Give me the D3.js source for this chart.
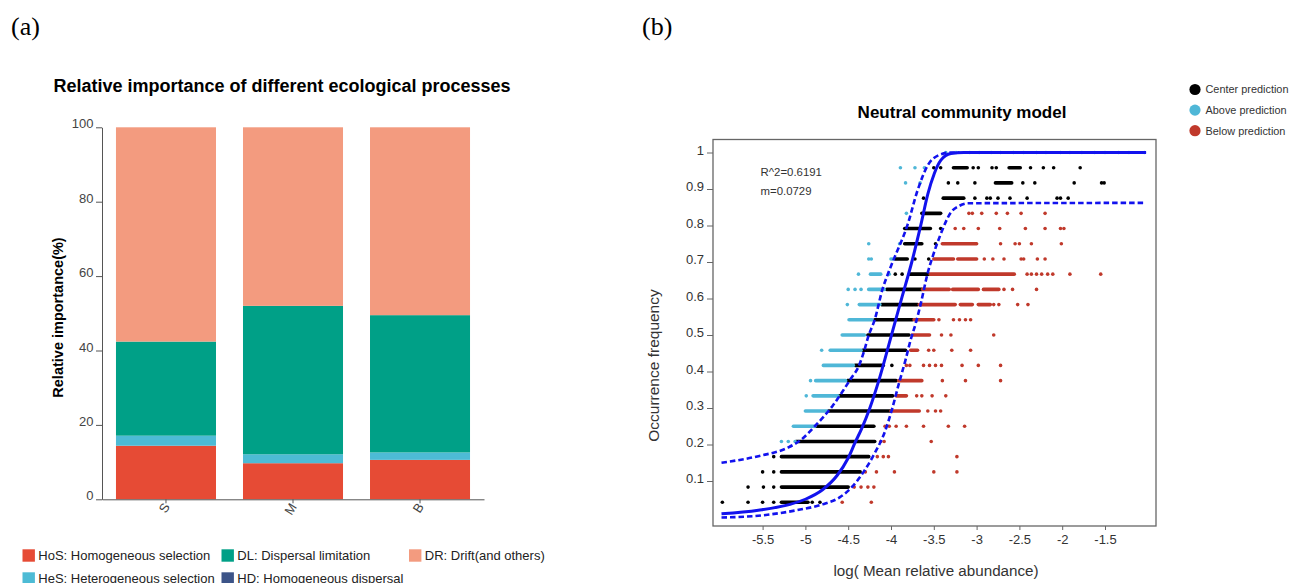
<!DOCTYPE html>
<html>
<head>
<meta charset="utf-8">
<script src="https://cdn.jsdelivr.net/npm/d3@7"></script>
<style>
body { margin: 0; background: #fff; }
svg { display: block; font-family: "Liberation Sans", Arial, sans-serif; }
</style>
</head>
<body>
<svg id="svg1" width="1294" height="583"></svg>
<script>
// ---------- panel (a) data ----------
var sites = ["S", "M", "B"];
var processKeys = ["HoS", "HeS", "DL", "HD", "DR"];
var hosValues = [14.4, 9.7, 10.6];
var hesValues = [2.7, 2.4, 2.0];
var dlValues = [25.3, 39.9, 36.9];
var hdValues = [0, 0, 0];
var drValues = [57.6, 48.0, 50.5];
var processLabels = ["HoS: Homogeneous selection", "HeS: Heterogeneous selection",
    "DL: Dispersal limitation", "HD: Homogeneous dispersal", "DR: Drift(and others)"];
var yTicksA = [0, 20, 40, 60, 80, 100];

// ---------- panel (b) data ----------
// occurrence = number of samples / 24 ; items are single OTUs or [from, to] runs of overlapping OTUs
var nSamples = 24;
var centerPts = [
    [1, [-5.97, -5.67, -5.50, -5.37, [-5.28, -4.97], -4.92, -4.83]],
    [2, [-5.67, -5.49, -5.37, [-5.28, -4.50]]],
    [3, [-5.50, -5.37, [-5.28, -4.36]]],
    [4, [-5.37, [-5.28, -4.26]]],
    [5, [[-5.11, -4.19]]],
    [6, [[-4.87, -4.20]]],
    [7, [[-4.73, -4.01]]],
    [8, [[-4.61, -3.98]]],
    [9, [[-4.51, -3.94]]],
    [10, [[-4.42, -4.09], -3.99]],
    [11, [[-4.33, -3.83]]],
    [12, [[-4.27, -3.79]]],
    [13, [[-4.19, -3.75]]],
    [14, [[-4.11, -3.69]]],
    [15, [[-4.05, -3.64]]],
    [16, [-3.95, -3.87, [-3.78, -3.56]]],
    [17, [[-3.95, -3.81], -3.72, -3.56]],
    [18, [[-3.84, -3.64], -3.48]],
    [19, [[-3.84, -3.54], -3.42]],
    [20, [[-3.64, -3.42]]],
    [21, [-3.62, [-3.39, -3.15], -3.02, -2.88, -2.84, -2.75, -2.61, -2.41, -2.06, -2.02, -1.93]],
    [22, [-3.33, -3.22, -3.02, [-2.78, -2.59], -2.46, -2.32, -1.86, -1.54, -1.51]],
    [23, [-3.50, -3.42, [-3.27, -3.11], -3.04, -2.98, -2.82, -2.77, [-2.62, -2.49], -2.37, -2.22, -2.10, -1.79]]
];
var abovePts = [
    [5, [-5.28, -5.20, -5.12]],
    [6, [[-5.14, -4.89]]],
    [7, [[-5.00, -4.75]]],
    [8, [-4.99, [-4.91, -4.62]]],
    [9, [-4.94, [-4.88, -4.53]]],
    [10, [[-4.79, -4.44]]],
    [11, [-4.81, [-4.71, -4.35]]],
    [12, [[-4.57, -4.31]]],
    [13, [[-4.49, -4.22]]],
    [14, [-4.51, [-4.37, -4.13]]],
    [15, [-4.50, -4.42, -4.35, [-4.26, -4.08]]],
    [16, [-4.38, [-4.24, -4.12], -4.02]],
    [17, [-4.26, -4.23, -4.00, -3.98]],
    [18, [-4.26, -3.90]],
    [20, [-3.82]],
    [22, [-3.83, -3.66]],
    [23, [-3.89, -3.72, -3.61]],
    [24, [-3.36, -3.24, -3.08, -2.97, -2.83, -2.72, -2.57, -2.45, -2.30, -2.19, -2.02, -1.91,
          -1.77, -1.62, -1.50, -1.34, -1.22, -1.04]]
];
var belowPts = [
    [1, [-4.57, -4.23]],
    [2, [-4.43, -4.35, -4.27, -4.20]],
    [3, [-4.30, -4.17, -3.96, -3.50, -3.23]],
    [4, [-4.16, -4.09, -4.03, -3.23]],
    [5, [-4.12, -4.08, -3.53]],
    [6, [-4.07, -4.02, -3.94, -3.82, -3.62, -3.33, -3.14]],
    [7, [[-4.00, -3.67], -3.57, -3.48, -3.42]],
    [8, [[-3.94, -3.82], -3.70, -3.64, -3.52, -3.36]],
    [9, [[-3.91, -3.64], -3.40, -3.13, -2.72]],
    [10, [-3.82, -3.78, -3.62, -3.55, -3.48, -3.41, -3.17, -2.98, -2.72]],
    [11, [[-3.77, -3.69], -3.56, -3.50, -3.29, -3.07]],
    [12, [[-3.75, -3.55], -3.41, -3.30, -2.80]],
    [13, [[-3.73, -3.50], -3.44, -3.27, -3.20, -3.13, -3.07]],
    [14, [[-3.67, -3.25], [-3.19, -3.05], [-2.98, -2.84], -2.80, -2.74, -2.52, -2.40]],
    [15, [[-3.63, -3.32], [-3.28, -2.98], [-2.92, -2.74], -2.68, -2.58, -2.30]],
    [16, [[-3.54, -2.56], -2.41, -2.36, -2.30, -2.24, -2.17, -2.11, -1.91, -1.55]],
    [17, [[-3.50, -3.27], [-3.22, -3.00], -2.91, -2.81, -2.68, -2.48, -2.45, -2.29, -2.20]],
    [18, [[-3.40, -3.00], -2.72, -2.55, -2.50, -2.36, -2.01]],
    [19, [-3.25, -3.15, -2.98, -2.73, -2.43, -2.20, -2.02, -1.98]],
    [20, [-3.09, -3.05, -2.94, -2.77, -2.64, -2.48, -2.20]]
];
var fitCurve = [[-5.98, 0.01], [-5.55, 0.02], [-5.18, 0.036], [-5.0, 0.05], [-4.80, 0.076],
    [-4.63, 0.115], [-4.50, 0.163], [-4.42, 0.205], [-4.34, 0.245], [-4.25, 0.298],
    [-4.14, 0.377], [-4.00, 0.495], [-3.87, 0.605], [-3.757, 0.70], [-3.65, 0.803],
    [-3.57, 0.886], [-3.495, 0.942], [-3.417, 0.979], [-3.30, 0.997], [-3.15, 1.0], [-1.02, 1.0]];
var upperBound = [[-5.98, 0.15], [-5.55, 0.168], [-5.2, 0.192], [-5.05, 0.213], [-4.89, 0.25],
    [-4.685, 0.305], [-4.47, 0.38], [-4.38, 0.413], [-4.31, 0.459], [-4.265, 0.496],
    [-4.19, 0.542], [-4.10, 0.625], [-4.03, 0.671], [-3.96, 0.712], [-3.805, 0.803],
    [-3.69, 0.896], [-3.57, 0.965], [-3.44, 0.993], [-3.30, 1.0], [-3.2, 1.0]];
var lowerBound = [[-5.98, 0.0], [-5.5, 0.006], [-5.1, 0.02], [-4.8, 0.036], [-4.6, 0.055],
    [-4.45, 0.085], [-4.32, 0.125], [-4.20, 0.172], [-4.07, 0.236], [-3.99, 0.295],
    [-3.91, 0.365], [-3.83, 0.432], [-3.77, 0.487], [-3.71, 0.533], [-3.65, 0.588],
    [-3.57, 0.671], [-3.52, 0.71], [-3.42, 0.776], [-3.30, 0.836], [-3.20, 0.854],
    [-3.10, 0.861], [-1.02, 0.862]];
var xTicksB = [-5.5, -5, -4.5, -4, -3.5, -3, -2.5, -2, -1.5];
var yTicksB = [0.1, 0.2, 0.3, 0.4, 0.5, 0.6, 0.7, 0.8, 0.9, 1];
var fitStats = ["R^2=0.6191", "m=0.0729"];
var pointClasses = ["Center prediction", "Above prediction", "Below prediction"];

var svg = d3.select('#svg1');

// panel letters
svg.append('text').attr('x', 11).attr('y', 35).text('(a)')
    .style('font-family', '"Liberation Serif", "Times New Roman", serif').style('font-size', '26px');
svg.append('text').attr('x', 642).attr('y', 35).text('(b)')
    .style('font-family', '"Liberation Serif", "Times New Roman", serif').style('font-size', '26px');

// ================= panel (a): stacked bars =================
var colorA = d3.scaleOrdinal().domain(processKeys)
    .range(['#E64B35', '#4DBBD5', '#00A087', '#3C5488', '#F39B7F']);

var tableA = sites.map(function(s, i) {
    return {site: s, HoS: hosValues[i], HeS: hesValues[i], DL: dlValues[i], HD: hdValues[i], DR: drValues[i]};
});

var xA = d3.scaleBand().domain(sites).range([102, 484]).paddingInner(0.2126).paddingOuter(0.11);
var yA = d3.scaleLinear().domain([0, 100]).range([499.3, 127.3]);

var stacked = d3.stack().keys(processKeys)(tableA);

var gA = svg.append('g');
gA.selectAll('.layer')
    .data(stacked)
    .enter().append('g')
    .attr('fill', function(d) { return colorA(d.key); })
    .selectAll('rect')
    .data(function(d) { return d; })
    .enter().append('rect')
    .attr('x', function(d) { return xA(d.data.site); })
    .attr('width', xA.bandwidth())
    .attr('y', function(d) { return yA(d[1]); })
    .attr('height', function(d) { return yA(d[0]) - yA(d[1]); });

var yAxisA = gA.append('g')
    .attr('transform', 'translate(102,0)')
    .call(d3.axisLeft(yA).tickValues(yTicksA).tickSize(6).tickSizeOuter(0).tickPadding(2.5));
yAxisA.selectAll('text').attr('dy', '0.05em').style('font-size', '13px').attr('fill', '#444');

var xAxisA = gA.append('g')
    .attr('transform', 'translate(0,499.3)')
    .call(d3.axisBottom(xA).tickSize(4).tickSizeOuter(0));
xAxisA.selectAll('text')
    .attr('transform', 'rotate(-58)')
    .attr('text-anchor', 'end')
    .attr('x', -4).attr('y', 3).attr('dy', '0.35em')
    .style('font-size', '13px').attr('fill', '#444');

gA.selectAll('.domain, .tick line').attr('stroke', '#555');

gA.append('text')
    .attr('x', 282).attr('y', 92)
    .attr('text-anchor', 'middle')
    .style('font-size', '18px').style('font-weight', 'bold')
    .text('Relative importance of different ecological processes');

gA.append('text')
    .attr('transform', 'translate(57.5,317.5) rotate(-90)')
    .attr('text-anchor', 'middle').attr('dy', '0.35em')
    .style('font-size', '14.5px').style('font-weight', 'bold')
    .text('Relative importance(%)');

// legend (two rows, filled column by column)
var legendColX = [22.5, 221.5, 409];
var legendRowY = [555.5, 578.5];
var legA = gA.selectAll('.legA')
    .data(processKeys)
    .enter().append('g')
    .attr('class', 'legA')
    .attr('transform', function(d, i) {
        return 'translate(' + legendColX[Math.floor(i / 2)] + ',' + legendRowY[i % 2] + ')';
    });
legA.append('rect').attr('x', 0).attr('y', -6.2).attr('width', 12.4).attr('height', 12.4)
    .attr('fill', function(d) { return colorA(d); });
legA.append('text').attr('x', 15.8).attr('dy', '0.35em')
    .style('font-size', '13px').attr('fill', '#222')
    .text(function(d, i) { return processLabels[i]; });

// ================= panel (b): neutral community model =================
var xB = d3.scaleLinear().domain([-5.5, -1.5]).range([762.6, 1105]);
var yB = d3.scaleLinear().domain([0, 1]).range([517.5, 152.5]);
var frame = {left: 713, top: 139.5, right: 1156, bottom: 526};

var gB = svg.append('g');

var classColors = {center: '#000000', above: '#4FB7D7', below: '#C0392B'};

function expand(rows, cls) {
    var singles = [], runs = [];
    rows.forEach(function(r) {
        r[1].forEach(function(it) {
            if (Array.isArray(it)) runs.push({f: r[0] / nSamples, x0: it[0], x1: it[1], cls: cls});
            else singles.push({f: r[0] / nSamples, x: it, cls: cls});
        });
    });
    return {singles: singles, runs: runs};
}

var dotR = 1.8;
[['center', centerPts], ['above', abovePts], ['below', belowPts]].forEach(function(c) {
    var pts = expand(c[1], c[0]);
    gB.append('g').selectAll('line')
        .data(pts.runs)
        .enter().append('line')
        .attr('x1', function(d) { return xB(d.x0); })
        .attr('x2', function(d) { return xB(d.x1); })
        .attr('y1', function(d) { return yB(d.f); })
        .attr('y2', function(d) { return yB(d.f); })
        .attr('stroke', classColors[c[0]])
        .attr('stroke-width', dotR * 2)
        .attr('stroke-linecap', 'round');
    gB.append('g').selectAll('circle')
        .data(pts.singles)
        .enter().append('circle')
        .attr('cx', function(d) { return xB(d.x); })
        .attr('cy', function(d) { return yB(d.f); })
        .attr('r', dotR)
        .attr('fill', classColors[c[0]]);
});

var lineB = d3.line()
    .x(function(d) { return xB(d[0]); })
    .y(function(d) { return yB(d[1]); })
    .curve(d3.curveMonotoneX);

[upperBound, lowerBound].forEach(function(b) {
    gB.append('path').datum(b)
        .attr('d', lineB)
        .attr('fill', 'none')
        .attr('stroke', '#1212EE')
        .attr('stroke-width', 2.6)
        .attr('stroke-dasharray', '5.5,3');
});
gB.append('path').datum(fitCurve)
    .attr('d', lineB)
    .attr('fill', 'none')
    .attr('stroke', '#1212EE')
    .attr('stroke-width', 3);

// frame
gB.append('rect')
    .attr('x', frame.left).attr('y', frame.top)
    .attr('width', frame.right - frame.left).attr('height', frame.bottom - frame.top)
    .attr('fill', 'none').attr('stroke', '#666').attr('stroke-width', 1.3);

var yAxisB = gB.append('g')
    .attr('transform', 'translate(' + frame.left + ',0)')
    .call(d3.axisLeft(yB).tickValues(yTicksB).tickSize(6).tickPadding(3)
        .tickFormat(function(d) { return d === 1 ? '1' : d.toFixed(1); }));
yAxisB.select('.domain').remove();
yAxisB.selectAll('text').attr('dy', '0.12em').style('font-size', '13px').attr('fill', '#333');

var xAxisB = gB.append('g')
    .attr('transform', 'translate(0,' + frame.bottom + ')')
    .call(d3.axisBottom(xB).tickValues(xTicksB).tickSize(4).tickPadding(5)
        .tickFormat(function(d) { return String(d); }));
xAxisB.select('.domain').remove();
xAxisB.selectAll('text').style('font-size', '13px').attr('fill', '#333');
gB.selectAll('.tick line').attr('stroke', '#666');

gB.append('text')
    .attr('x', 962).attr('y', 118)
    .attr('text-anchor', 'middle')
    .style('font-size', '17px').style('font-weight', 'bold')
    .text('Neutral community model');

gB.append('text')
    .attr('transform', 'translate(654,365.5) rotate(-90)')
    .attr('text-anchor', 'middle').attr('dy', '0.35em')
    .style('font-size', '15.5px').attr('fill', '#333')
    .text('Occurrence frequency');

gB.append('text')
    .attr('x', 936).attr('y', 576)
    .attr('text-anchor', 'middle')
    .style('font-size', '15.2px').attr('fill', '#333')
    .text('log( Mean relative abundance)');

gB.selectAll('.stat')
    .data(fitStats)
    .enter().append('text')
    .attr('x', 760.5)
    .attr('y', function(d, i) { return 175.5 + i * 19; })
    .style('font-size', '11.4px').attr('fill', '#333')
    .text(function(d) { return d; });

var legB = gB.selectAll('.legB')
    .data(pointClasses)
    .enter().append('g')
    .attr('transform', function(d, i) { return 'translate(1195,' + (89.5 + i * 20.6) + ')'; });
legB.append('circle').attr('r', 5.6)
    .attr('fill', function(d, i) { return [classColors.center, classColors.above, classColors.below][i]; });
legB.append('text').attr('x', 10.5).attr('dy', '0.35em')
    .style('font-size', '10.9px').attr('fill', '#333')
    .text(function(d) { return d; });
</script>
</body>
</html>
